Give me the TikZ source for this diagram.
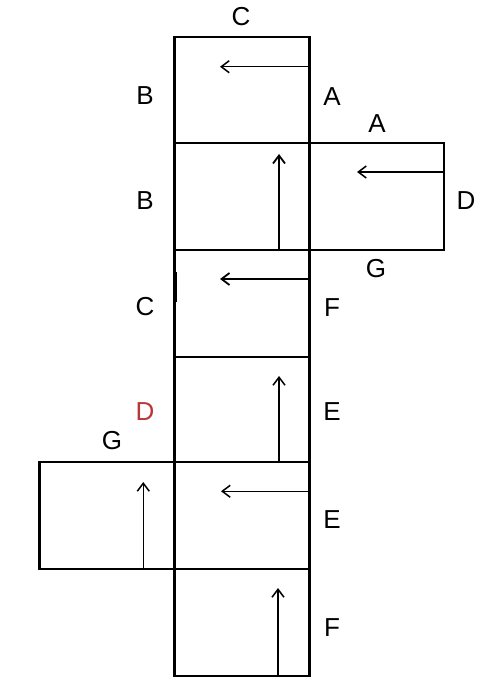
\documentclass[tikz,border=0pt]{standalone}
\usepackage{fontspec}
\setmainfont{Liberation Sans}
\usetikzlibrary{arrows.meta}
\definecolor{redlbl}{RGB}{185,55,55}
\begin{document}
\begin{tikzpicture}[x=1pt,y=-1pt,
  edge/.style={line width=2.2pt,line join=miter},
  fold/.style={line width=1.5pt,-{Straight Barb[length=8pt,width=12pt,line width=1.5pt]}},
  foldthick/.style={line width=2pt,-{Straight Barb[length=8pt,width=12pt,line width=1.8pt]}},
  lbl/.style={font=\fontsize{26}{26}\selectfont,inner sep=0pt}]
\useasboundingbox (0,0) rectangle (491,690);
% main column
\draw[edge] (174.5,37.3) rectangle (309.5,675.7);
\foreach \y in {143.3,250.3,356.7,462.3,569.3}
  \draw[edge] (174.5,\y) -- (309.5,\y);
% side squares
\draw[edge] (309.5,143.3) -- (444.3,143.3) -- (444.3,250.3) -- (309.5,250.3);
\draw[edge] (174.5,462.3) -- (39.5,462.3) -- (39.5,569.3) -- (174.5,569.3);
% thick mark
\draw[line width=4pt] (174.5,272) -- (174.5,302);
% arrows
\draw[fold] (309.5,66.7) -- (220,66.7);
\draw[foldthick] (279,250.3) -- (279,154);
\draw[fold] (444.3,172) -- (357,172);
\draw[foldthick] (309.5,279) -- (220,279);
\draw[fold] (279,462.3) -- (279,376);
\draw[fold] (309.5,491.3) -- (221,491.3);
\draw[fold] (143.3,569.3) -- (143.3,482);
\draw[fold] (278,675.7) -- (278,588);
% labels
\node[lbl] (c1) at (241,17) {C};
\node[lbl] (b1) at (145,96) {B};
\node[lbl] (a1) at (332,97) {A};
\node[lbl] (a2) at (377,124) {A};
\node[lbl] (b2) at (145,201) {B};
\node[lbl] (d1) at (466,201) {D};
\node[lbl] (g1) at (376,269) {G};
\node[lbl] (c2) at (145,307) {C};
\node[lbl] (f1) at (332,308) {F};
\node[lbl,text=redlbl] (d2) at (145,412) {D};
\node[lbl] (e1) at (332,412) {E};
\node[lbl] (g2) at (112,441) {G};
\node[lbl] (e2) at (332,520) {E};
\node[lbl] (f2) at (332,628) {F};
\end{tikzpicture}
\end{document}
